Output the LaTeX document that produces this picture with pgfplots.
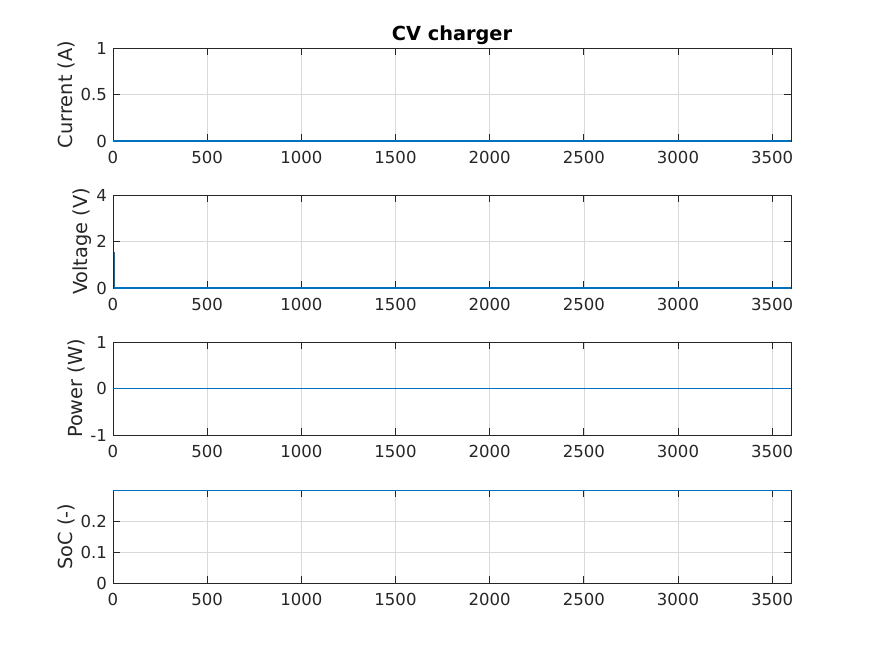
\documentclass[border=0pt]{standalone}
\usepackage{pgfplots}
\pgfplotsset{compat=1.18}
\usepackage{fontspec}
\setmainfont{DejaVu Sans}
\definecolor{mblue}{rgb}{0,0.447,0.741}
\definecolor{mgray}{rgb}{0.15,0.15,0.15}
\pgfplotsset{
  mstyle/.style={
    scale only axis, width=508.5pt, height=69.75pt,
    xmin=0, xmax=3600, xtick={0,500,1000,1500,2000,2500,3000,3500},
    grid=major, major grid style={black!15, line width=0.5pt},
    axis line style={mgray, line width=0.6pt},
    tick style={mgray, line width=0.6pt},
    tick align=inside, major tick length=5pt,
    every tick label/.append style={font=\fontsize{12.4}{14}\selectfont, text=mgray},
    every axis y label/.append style={font=\fontsize{14.5}{16}\selectfont, text=mgray, yshift=-3pt},
    /pgf/number format/assume math mode=true,
    /pgf/number format/1000 sep={},
    scaled ticks=false,
    xticklabel style={yshift=-4pt},
    yticklabel style={xshift=-1pt},
    anchor=south west, clip=false,
  },
  mline/.style={color=mblue, line width=0.9pt, mark=none},
}
\begin{document}
\begin{tikzpicture}
\useasboundingbox (0,0) rectangle (655.5pt,491.25pt);
\begin{axis}[mstyle, at={(84.75pt,385.5pt)}, ymin=0, ymax=1, ytick={0,0.5,1},
  ylabel={Current (A)},
  title={\textbf{CV charger}}, title style={font=\fontsize{14.5}{16}\selectfont\bfseries, text=black, yshift=-7pt}]
\addplot[mline] coordinates {(0,0) (3600,0)};
\end{axis}
\begin{axis}[mstyle, at={(84.75pt,275.25pt)}, ymin=0, ymax=4, ytick={0,2,4},
  ylabel={Voltage (V)}]
\addplot[mline] coordinates {(9,1.55) (9,0) (3600,0)};
\end{axis}
\begin{axis}[mstyle, at={(84.75pt,165pt)}, ymin=-1, ymax=1, ytick={-1,0,1},
  ylabel={Power (W)}]
\addplot[mline] coordinates {(0,0) (3600,0)};
\end{axis}
\begin{axis}[mstyle, at={(84.75pt,54pt)}, ymin=0, ymax=0.3, ytick={0,0.1,0.2},
  ylabel={SoC (-)}]
\addplot[mline] coordinates {(0,0.2995) (3600,0.2995)};
\end{axis}
\end{tikzpicture}
\end{document}
